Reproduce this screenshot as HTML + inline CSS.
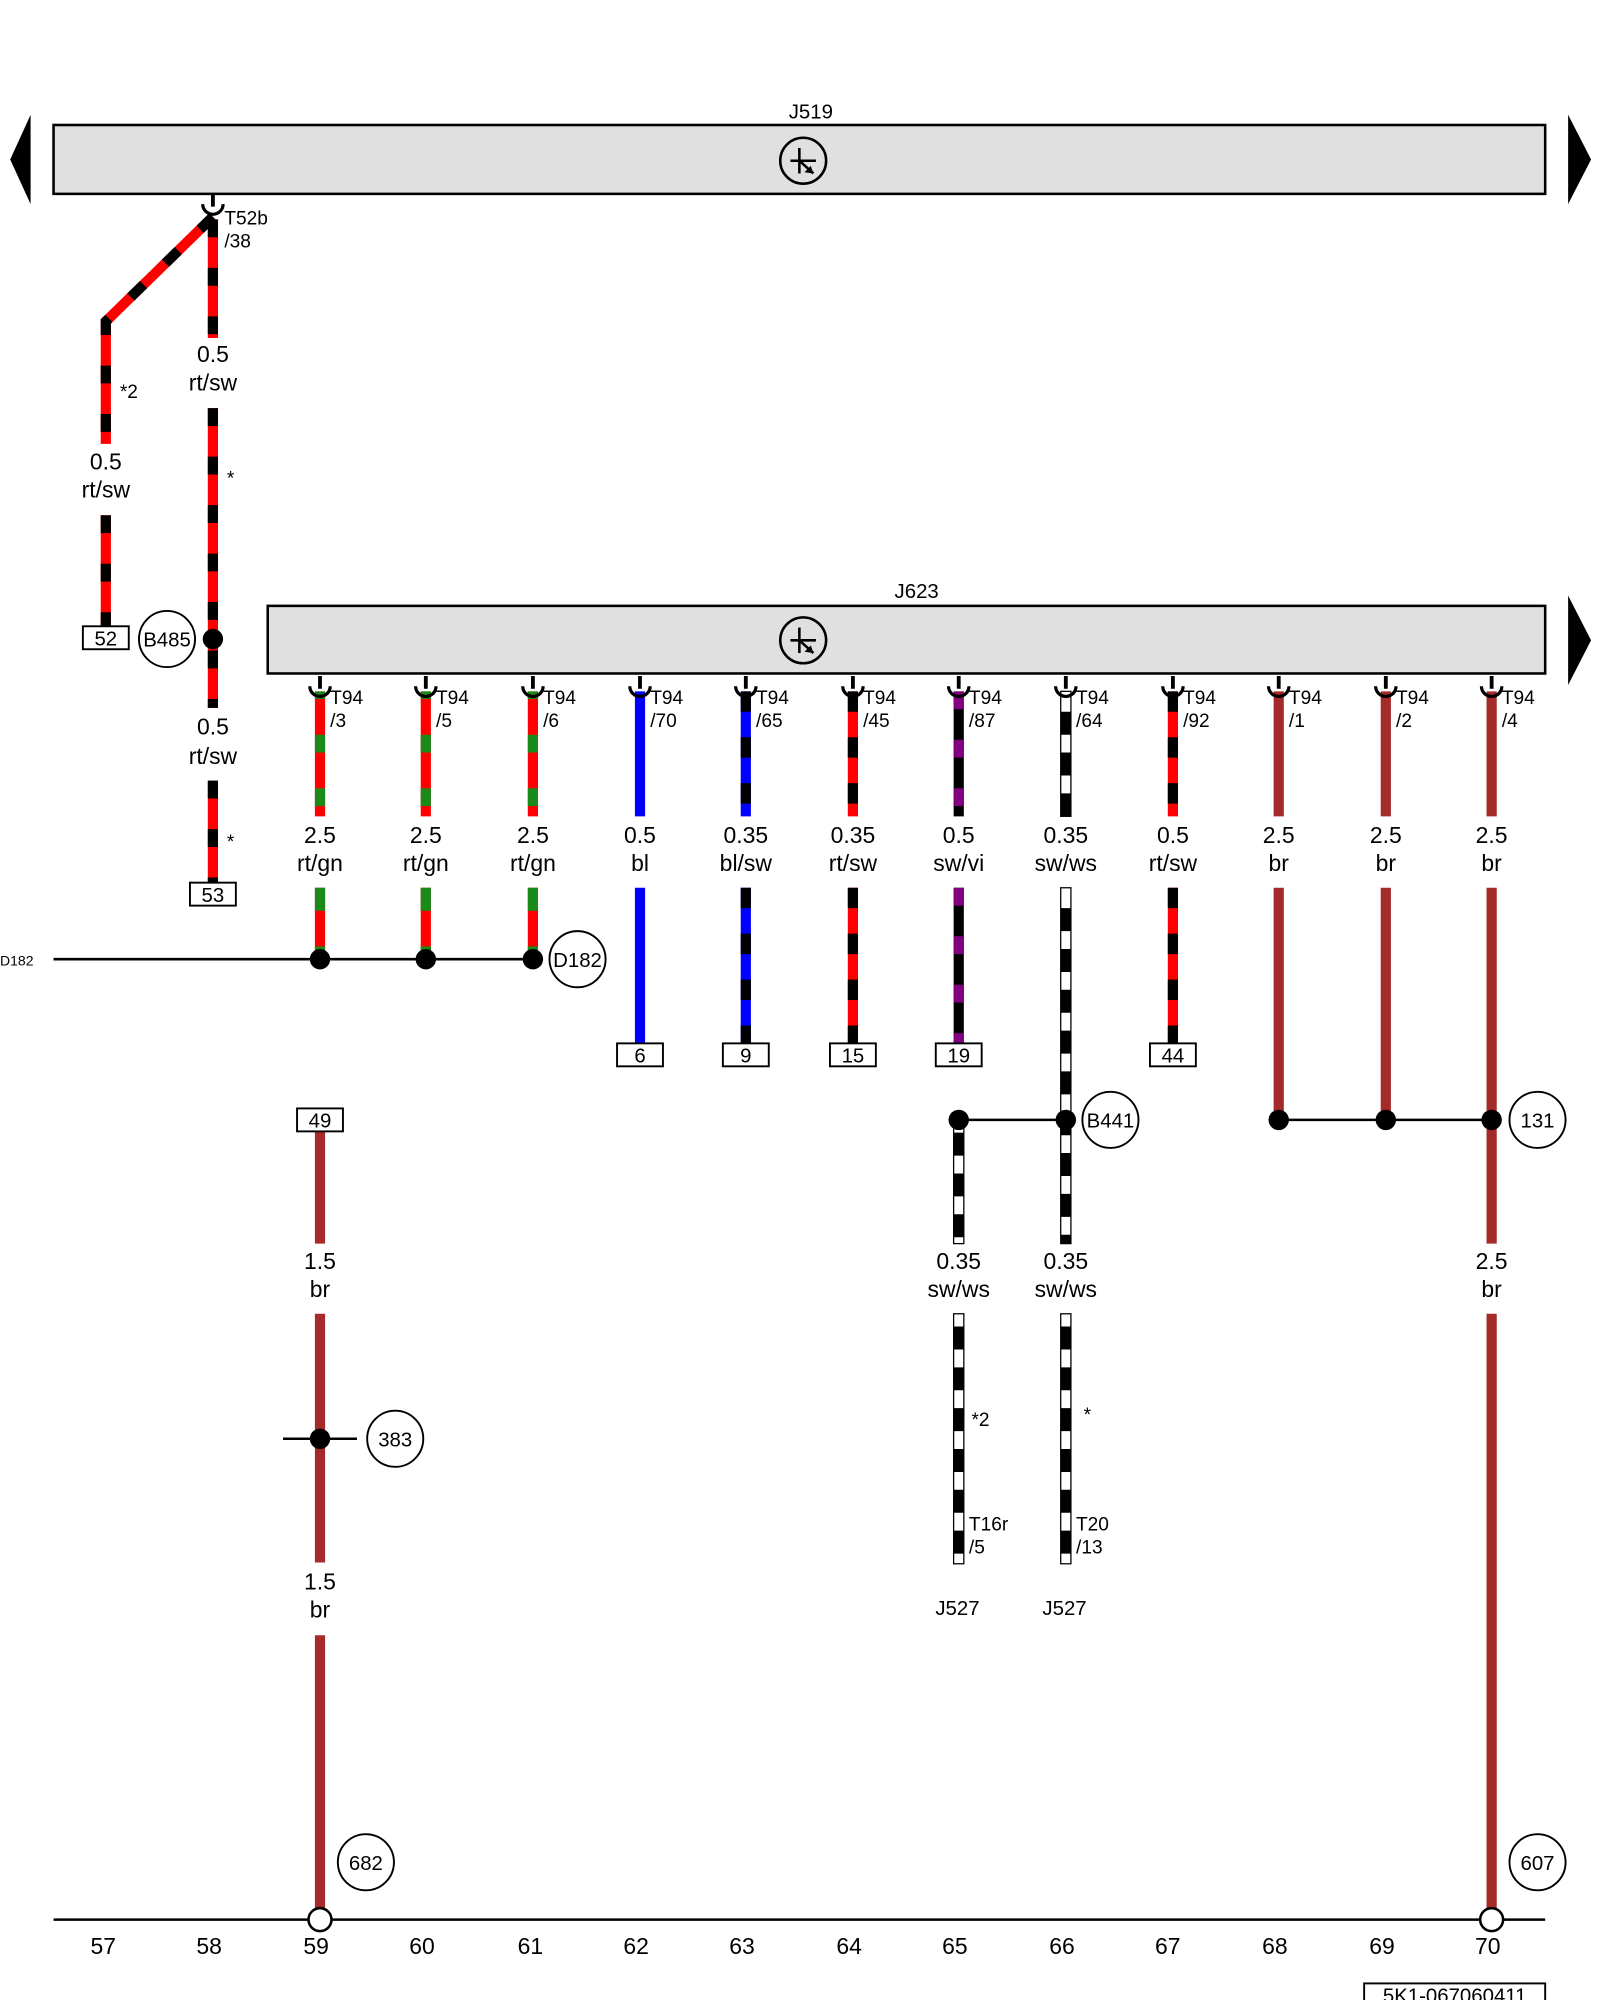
<!DOCTYPE html>
<html><head><meta charset="utf-8"><style>
html,body{margin:0;padding:0;background:#fff;}
svg{display:block}
text{font-family:"Liberation Sans",sans-serif;fill:#000}
.n{font-size:18px;text-anchor:middle}
.s{font-size:15px}
.c{font-size:16px;text-anchor:middle}
</style></head><body>
<svg width="1600" height="2000" viewBox="0 0 1255 1568" preserveAspectRatio="none" xmlns="http://www.w3.org/2000/svg">
<defs>
<g id="sym"><circle r="18" fill="none" stroke="#000" stroke-width="2"/><line x1="-10" y1="0" x2="10" y2="0" stroke="#000" stroke-width="2"/><line x1="-3" y1="-10" x2="-3" y2="10" stroke="#000" stroke-width="2"/><line x1="-3" y1="0" x2="8" y2="10" stroke="#000" stroke-width="2"/><path d="M8 10 l-7 -1 l5 -5z" fill="#000"/></g>
<g id="con"><line x1="0" y1="-8" x2="0" y2="2" stroke="#000" stroke-width="3"/><path d="M-8 0 a8 8 0 0 0 16 0" fill="none" stroke="#000" stroke-width="2.5"/></g>
</defs>
<path d="M8 125 L24 90 L24 160Z" fill="#000"/>
<path d="M1248 125 L1230 90 L1230 160Z" fill="#000"/>
<path d="M1248 502 L1230 467 L1230 537Z" fill="#000"/>
<rect x="42" y="98" width="1170" height="54" fill="#e0e0e0" stroke="#000" stroke-width="2"/>
<text x="636" y="93" class="c">J519</text>
<use href="#sym" x="630" y="126"/>
<rect x="210" y="475" width="1002" height="53" fill="#e0e0e0" stroke="#000" stroke-width="2"/>
<text x="719" y="469" class="c">J623</text>
<use href="#sym" x="630" y="502"/>

<g stroke-width="8" fill="none">
<polyline points="167,170 83,252 83,348" stroke="#f00"/>
<polyline points="167,170 83,252 83,348" stroke="#000" stroke-dasharray="14 24"/>
<line x1="83" y1="404" x2="83" y2="491" stroke="#f00"/><line x1="83" y1="404" x2="83" y2="491" stroke="#000" stroke-dasharray="14 24"/>
<line x1="167" y1="172" x2="167" y2="265" stroke="#f00"/><line x1="167" y1="172" x2="167" y2="265" stroke="#000" stroke-dasharray="14 24"/>
<line x1="167" y1="320" x2="167" y2="555" stroke="#f00"/><line x1="167" y1="320" x2="167" y2="555" stroke="#000" stroke-dasharray="14 24"/>
<line x1="167" y1="612" x2="167" y2="692" stroke="#f00"/><line x1="167" y1="612" x2="167" y2="692" stroke="#000" stroke-dasharray="14 24"/>
</g>
<use href="#con" x="167" y="160"/>
<text x="176" y="176" class="s">T52b</text><text x="176" y="194" class="s">/38</text>
<text x="167" y="284" class="n">0.5</text><text x="167" y="306" class="n">rt/sw</text>
<text x="83" y="368" class="n">0.5</text><text x="83" y="390" class="n">rt/sw</text>
<text x="167" y="576" class="n">0.5</text><text x="167" y="599" class="n">rt/sw</text>
<text x="94" y="312" class="s">*2</text><text x="178" y="380" class="s">*</text><text x="178" y="665" class="s">*</text>
<rect x="65" y="491" width="36" height="18" fill="#fff" stroke="#000" stroke-width="1.5"/><text x="83" y="506" class="c">52</text>
<rect x="149" y="692" width="36" height="18" fill="#fff" stroke="#000" stroke-width="1.5"/><text x="167" y="707" class="c">53</text>
<circle cx="167" cy="501" r="8" fill="#000"/>
<circle cx="131" cy="501" r="22" fill="#fff" stroke="#000" stroke-width="1.5"/><text x="131" y="507" class="c">B485</text>

<g stroke-width="8" fill="none">
<path d="M251 542V640M251 696V752M334 542V640M334 696V752M418 542V640M418 696V752" stroke="#f00"/>
<path d="M251 542V640M334 542V640M418 542V640" stroke="#1a8a1a" stroke-dasharray="14 28" stroke-dashoffset="-34"/>
<path d="M251 696V752M334 696V752M418 696V752" stroke="#1a8a1a" stroke-dasharray="18 28"/>
<path d="M502 542V640M502 696V818" stroke="#00f"/>
<path d="M585 542V640M585 696V818" stroke="#00f"/>
<path d="M585 542V640M585 696V818" stroke="#000" stroke-dasharray="16 20"/>
<path d="M669 542V640M669 696V818M920 542V640M920 696V818" stroke="#f00"/>
<path d="M669 542V640M669 696V818M920 542V640M920 696V818" stroke="#000" stroke-dasharray="16 20"/>
<path d="M752 542V640M752 696V818" stroke="#000"/>
<path d="M752 542V640M752 696V818" stroke="#800080" stroke-dasharray="14 24"/>
<path d="M1003 542V640M1003 696V878M1087 542V640M1087 696V878M1170 542V640M1170 696V975M1170 1030V1505M251 887V975M251 1030V1225M251 1282V1505" stroke="#a52a2a"/>
</g>
<g fill="#fff" stroke="#000" stroke-width="1">
<rect x="832" y="542" width="8" height="98"/>
<rect x="832" y="696" width="8" height="279"/>
<rect x="748" y="878" width="8" height="97"/>
<rect x="748" y="1030" width="8" height="196"/>
<rect x="832" y="1030" width="8" height="196"/>
</g>
<g stroke="#000" stroke-width="8" fill="none" stroke-dasharray="18 14">
<path d="M836 558V640M836 712V975M752 888V975M752 1040V1226M836 1040V1226"/>
</g>
<g>
<use href="#con" x="251" y="538"/><use href="#con" x="334" y="538"/><use href="#con" x="418" y="538"/><use href="#con" x="502" y="538"/><use href="#con" x="585" y="538"/><use href="#con" x="669" y="538"/><use href="#con" x="752" y="538"/><use href="#con" x="836" y="538"/><use href="#con" x="920" y="538"/><use href="#con" x="1003" y="538"/><use href="#con" x="1087" y="538"/><use href="#con" x="1170" y="538"/>
</g>
<g class="s">
<text x="259" y="552">T94</text><text x="259" y="570">/3</text>
<text x="342" y="552">T94</text><text x="342" y="570">/5</text>
<text x="426" y="552">T94</text><text x="426" y="570">/6</text>
<text x="510" y="552">T94</text><text x="510" y="570">/70</text>
<text x="593" y="552">T94</text><text x="593" y="570">/65</text>
<text x="677" y="552">T94</text><text x="677" y="570">/45</text>
<text x="760" y="552">T94</text><text x="760" y="570">/87</text>
<text x="844" y="552">T94</text><text x="844" y="570">/64</text>
<text x="928" y="552">T94</text><text x="928" y="570">/92</text>
<text x="1011" y="552">T94</text><text x="1011" y="570">/1</text>
<text x="1095" y="552">T94</text><text x="1095" y="570">/2</text>
<text x="1178" y="552">T94</text><text x="1178" y="570">/4</text>
</g>
<g class="n">
<text x="251" y="661">2.5</text><text x="251" y="683">rt/gn</text>
<text x="334" y="661">2.5</text><text x="334" y="683">rt/gn</text>
<text x="418" y="661">2.5</text><text x="418" y="683">rt/gn</text>
<text x="502" y="661">0.5</text><text x="502" y="683">bl</text>
<text x="585" y="661">0.35</text><text x="585" y="683">bl/sw</text>
<text x="669" y="661">0.35</text><text x="669" y="683">rt/sw</text>
<text x="752" y="661">0.5</text><text x="752" y="683">sw/vi</text>
<text x="836" y="661">0.35</text><text x="836" y="683">sw/ws</text>
<text x="920" y="661">0.5</text><text x="920" y="683">rt/sw</text>
<text x="1003" y="661">2.5</text><text x="1003" y="683">br</text>
<text x="1087" y="661">2.5</text><text x="1087" y="683">br</text>
<text x="1170" y="661">2.5</text><text x="1170" y="683">br</text>
</g>
<text x="752" y="995" class="n">0.35</text><text x="752" y="1017" class="n">sw/ws</text>
<text x="836" y="995" class="n">0.35</text><text x="836" y="1017" class="n">sw/ws</text>
<text x="1170" y="995" class="n">2.5</text><text x="1170" y="1017" class="n">br</text>
<text x="251" y="995" class="n">1.5</text><text x="251" y="1017" class="n">br</text>
<text x="251" y="1246" class="n">1.5</text><text x="251" y="1268" class="n">br</text>
<text x="762" y="1118" class="s">*2</text><text x="850" y="1114" class="s">*</text>
<text x="760" y="1200" class="s">T16r</text><text x="760" y="1218" class="s">/5</text>
<text x="844" y="1200" class="s">T20</text><text x="844" y="1218" class="s">/13</text>
<text x="751" y="1266" class="c">J527</text><text x="835" y="1266" class="c">J527</text>

<g fill="#fff" stroke="#000" stroke-width="1.5">
<rect x="484" y="818" width="36" height="18"/><rect x="567" y="818" width="36" height="18"/><rect x="651" y="818" width="36" height="18"/><rect x="734" y="818" width="36" height="18"/><rect x="902" y="818" width="36" height="18"/><rect x="233" y="869" width="36" height="18"/>
</g>
<g class="c">
<text x="502" y="833">6</text><text x="585" y="833">9</text><text x="669" y="833">15</text><text x="752" y="833">19</text><text x="920" y="833">44</text><text x="251" y="884">49</text>
</g>
<g stroke="#000" stroke-width="2">
<line x1="42" y1="752" x2="418" y2="752"/>
<line x1="752" y1="878" x2="836" y2="878"/>
<line x1="1003" y1="878" x2="1170" y2="878"/>
<line x1="222" y1="1128" x2="280" y2="1128"/>
<line x1="42" y1="1505" x2="1212" y2="1505"/>
</g>
<text x="0" y="757" style="font-size:11px">D182</text>
<g fill="#000">
<circle cx="251" cy="752" r="8"/><circle cx="334" cy="752" r="8"/><circle cx="418" cy="752" r="8"/>
<circle cx="752" cy="878" r="8"/><circle cx="836" cy="878" r="8"/>
<circle cx="1003" cy="878" r="8"/><circle cx="1087" cy="878" r="8"/><circle cx="1170" cy="878" r="8"/>
<circle cx="251" cy="1128" r="8"/>
</g>
<g fill="#fff" stroke="#000" stroke-width="1.5">
<circle cx="453" cy="752" r="22"/><circle cx="871" cy="878" r="22"/><circle cx="1206" cy="878" r="22"/>
<circle cx="310" cy="1128" r="22"/><circle cx="287" cy="1460" r="22"/><circle cx="1206" cy="1460" r="22"/>
</g>
<g fill="#fff" stroke="#000" stroke-width="2">
<circle cx="251" cy="1505" r="9"/><circle cx="1170" cy="1505" r="9"/>
</g>
<g class="c">
<text x="453" y="758">D182</text><text x="871" y="884">B441</text><text x="1206" y="884">131</text>
<text x="310" y="1134">383</text><text x="287" y="1466">682</text><text x="1206" y="1466">607</text>
</g>
<g class="n">
<text x="81" y="1532">57</text><text x="164" y="1532">58</text><text x="248" y="1532">59</text><text x="331" y="1532">60</text><text x="416" y="1532">61</text><text x="499" y="1532">62</text><text x="582" y="1532">63</text><text x="666" y="1532">64</text><text x="749" y="1532">65</text><text x="833" y="1532">66</text><text x="916" y="1532">67</text><text x="1000" y="1532">68</text><text x="1084" y="1532">69</text><text x="1167" y="1532">70</text>
</g>
<rect x="1070" y="1555" width="142" height="20" fill="#fff" stroke="#000" stroke-width="1.5"/>
<text x="1141" y="1570" class="c">5K1-067060411</text>
</svg>
</body></html>
